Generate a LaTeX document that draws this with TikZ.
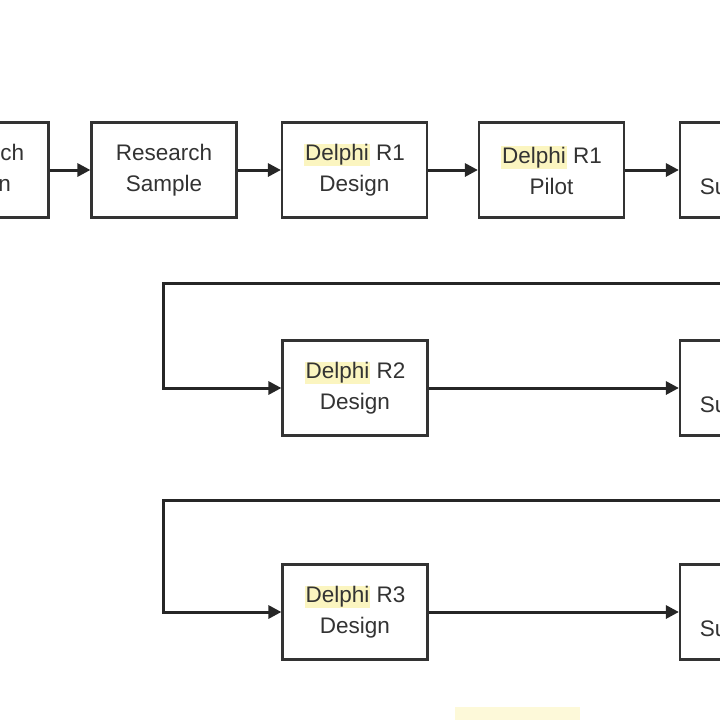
\documentclass[tikz,border=0pt]{standalone}
\usepackage{fontspec}
\setmainfont{Liberation Sans}
\usetikzlibrary{arrows.meta}
\definecolor{hl}{HTML}{FBF5C0}
\newcommand{\dhl}[1]{\setlength{\fboxsep}{1pt}\colorbox{hl}{#1}}
\begin{document}
\begin{tikzpicture}[x=1pt,y=-1pt,
  box/.style={draw=black!80,line width=2.2pt,fill=white,minimum width=145pt,minimum height=95pt,align=center,font=\fontsize{22.5}{31}\selectfont,text=black!80,inner sep=0pt},
  arr/.style={line width=3pt,draw=black!85,-{Triangle[length=13pt,width=13pt]}},
  ln/.style={line width=3pt,draw=black!85}]
\useasboundingbox (0,0) rectangle (720,720);
\begin{scope}
\clip (0,0) rectangle (720,720);
\fill[hl!60] (455,707) rectangle (580,720);
\node[box] (rd) at (-24,170) {Research\\Design};
\node[box] (rs) at (164,170) {Research\\Sample};
\node[box] (d1) at (354.5,170) {\dhl{Delphi} R1\\Design};
\node[box] (p1) at (551.5,170) {\dhl{Delphi} R1\\Pilot};
\node[box] (s1) at (752.5,170) {\strut\\Survey R1};
\node[box] (d2) at (355,388) {\dhl{Delphi} R2\\Design};
\node[box] (s2) at (752.5,388) {\strut\\Survey R2};
\node[box] (d3) at (355,612) {\dhl{Delphi} R3\\Design};
\node[box] (s3) at (752.5,612) {\strut\\Survey R3};
\coordinate (e2) at (740,283);
\coordinate (e3) at (740,500);
\draw[arr] (rd) -- (rs);
\draw[arr] (rs) -- (d1);
\draw[arr] (d1) -- (p1);
\draw[arr] (p1) -- (s1);
\draw[arr] (e2) -- (163,283) |- (d2);
\draw[arr] (d2) -- (s2);
\draw[arr] (e3) -- (163,500) |- (d3);
\draw[arr] (d3) -- (s3);
\end{scope}
\end{tikzpicture}
\end{document}
